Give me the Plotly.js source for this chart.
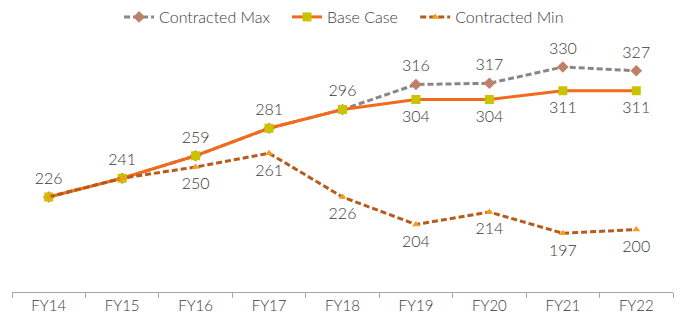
<!DOCTYPE html>
<html>
<head>
<meta charset="utf-8">
<script src="https://cdn.plot.ly/plotly-3.0.1.min.js"></script>
<style>html,body{margin:0;padding:0;background:#fff;}#chart{width:685px;height:325px;}</style>
</head>
<body>
<div id="chart"></div>
<script>
const categories = ["FY14","FY15","FY16","FY17","FY18","FY19","FY20","FY21","FY22"];
const contractedMax = [226,241,259,281,296,316,317,330,327];
const baseCase = [226,241,259,281,296,304,304,311,311];
const contractedMin = [226,241,250,261,226,204,214,197,200];

const maxText = contractedMax.map((v,i)=> i>=5 ? String(v) : "");
const baseTopText = baseCase.map((v,i)=> i<5 ? String(v) : "");
const baseBottomText = baseCase.map((v,i)=> i>=5 ? String(v) : "");
const minText = contractedMin.map((v,i)=> i>=2 ? String(v) : "");

const font = "Lato, 'DejaVu Sans', sans-serif";
const txtColor = "#3a3a3a";
const tf = {family: font, size: 16, color: txtColor, weight: 300};

function labelTrace(y, text, pos, size) {
  return {x: categories, y: y, type: "scatter", mode: "markers+text", showlegend: false,
          marker: {size: size, opacity: 0}, text: text, textposition: pos,
          textfont: tf, cliponaxis: false, hoverinfo: "skip"};
}

const traces = [
  {
    name: "Contracted Max", legend: "legend", x: categories, y: contractedMax, type: "scatter", mode: "lines+markers",
    line: {color: "#878787", width: 3, dash: "6px,3px"},
    marker: {symbol: "diamond", size: 9, color: "#C08068"}, cliponaxis: false
  },
  {
    name: "Base Case", legend: "legend2", x: categories, y: baseCase, type: "scatter", mode: "lines+markers",
    line: {color: "#F26A1B", width: 3},
    marker: {symbol: "square", size: 9, color: "#C9C300"}, cliponaxis: false
  },
  {
    name: "Contracted Min", legend: "legend3", x: categories, y: contractedMin, type: "scatter", mode: "lines+markers",
    line: {color: "#B85A1A", width: 3, dash: "6px,3px"},
    marker: {symbol: "triangle-up", size: 7, color: "#F0A020"}, cliponaxis: false
  },
  labelTrace(contractedMax, maxText, "top center", 13),
  labelTrace(baseCase, baseTopText, "top center", 13),
  labelTrace(baseCase, baseBottomText, "bottom center", 15),
  labelTrace(contractedMin, minText, "bottom center", 15)
];

function leg(x) {
  return {orientation: "h", x: x, xanchor: "left", y: 1.10, yanchor: "middle",
          font: tf, bgcolor: "rgba(0,0,0,0)"};
}

const layout = {
  width: 685, height: 325,
  margin: {l: 12, r: 12, t: 42, b: 33, autoexpand: false},
  paper_bgcolor: "#ffffff", plot_bgcolor: "#ffffff",
  font: {family: font, color: txtColor},
  showlegend: true,
  legend: leg(0.162),
  legend2: leg(0.416),
  legend3: leg(0.610),
  xaxis: {
    type: "category", range: [-0.5, 8.5], showgrid: false, zeroline: false,
    showline: true, linecolor: "#A6A6A6", linewidth: 1,
    ticks: "outside", tickson: "boundaries", ticklen: 5, tickcolor: "#A6A6A6",
    tickfont: {family: font, size: 15, color: txtColor, weight: 300}, fixedrange: true
  },
  yaxis: {range: [150, 350], visible: false, showgrid: false, zeroline: false, fixedrange: true}
};

Plotly.newPlot("chart", traces, layout, {displayModeBar: false, staticPlot: true});
</script>
</body>
</html>
